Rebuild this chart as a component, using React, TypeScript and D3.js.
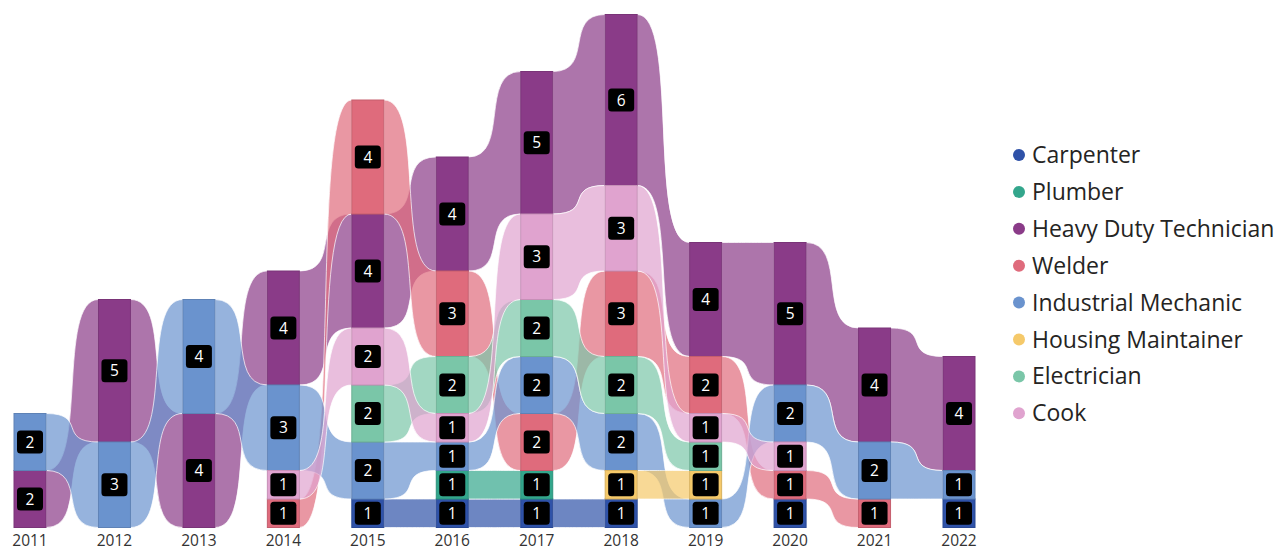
import React from "react";
import * as d3 from "d3";

const years = [2011, 2012, 2013, 2014, 2015, 2016, 2017, 2018, 2019, 2020, 2021, 2022];
const seriesNames = [
  "Carpenter",
  "Plumber",
  "Heavy Duty Technician",
  "Welder",
  "Industrial Mechanic",
  "Housing Maintainer",
  "Electrician",
  "Cook",
];
const seriesColors = ["#2F52A8", "#33A68C", "#8A3B88", "#DF6B7C", "#6A93CE", "#F5C96A", "#7AC6A8", "#E0A3CF"];

const carpenter = [0, 0, 0, 0, 1, 1, 1, 1, 0, 1, 0, 1];
const plumber = [0, 0, 0, 0, 0, 1, 1, 0, 0, 0, 0, 0];
const heavyDuty = [2, 5, 4, 4, 4, 4, 5, 6, 4, 5, 4, 4];
const welder = [0, 0, 0, 1, 4, 3, 2, 3, 2, 1, 1, 0];
const industrialMechanic = [2, 3, 4, 3, 2, 1, 2, 2, 1, 2, 2, 1];
const housingMaintainer = [0, 0, 0, 0, 0, 0, 0, 1, 1, 0, 0, 0];
const electrician = [0, 0, 0, 0, 2, 2, 2, 2, 1, 0, 0, 0];
const cook = [0, 0, 0, 1, 2, 1, 3, 3, 1, 1, 0, 0];

const values = [carpenter, plumber, heavyDuty, welder, industrialMechanic, housingMaintainer, electrician, cook];

const FONT = "'Segoe UI', 'Open Sans', 'Noto Sans', sans-serif";

export default function App() {
  const barW = 32;
  const x = d3.scalePoint<number>().domain(years).range([30, 959]);
  const totals = years.map((_, i) => d3.sum(values, (v) => v[i]));
  const y = d3.scaleLinear().domain([0, d3.max(totals) as number]).range([527.5, 14.5]);

  // stacking: ascending by value, tie broken by legend order, bottom to top
  const stack: { lo: number; hi: number }[][] = values.map(() => years.map(() => ({ lo: 0, hi: 0 })));
  years.forEach((_, i) => {
    const order = d3.range(values.length)
      .filter((s) => values[s][i] > 0)
      .sort((a, b) => values[a][i] - values[b][i] || a - b);
    let cum = 0;
    order.forEach((s) => {
      stack[s][i] = { lo: cum, hi: cum + values[s][i] };
      cum += values[s][i];
    });
  });

  const k = 0.8; // control-point reach: steeper S-curve with rounded shoulders
  const ribbons: JSX.Element[] = [];
  values.forEach((v, s) => {
    for (let i = 0; i < years.length - 1; i++) {
      if (v[i] > 0 && v[i + 1] > 0) {
        const x0 = (x(years[i]) as number) + barW / 2;
        const x1 = (x(years[i + 1]) as number) - barW / 2;
        const c0 = x0 + k * (x1 - x0);
        const c1 = x1 - k * (x1 - x0);
        const t0 = y(stack[s][i].hi), b0 = y(stack[s][i].lo);
        const t1 = y(stack[s][i + 1].hi), b1 = y(stack[s][i + 1].lo);
        const p = d3.path();
        p.moveTo(x0, t0);
        p.bezierCurveTo(c0, t0, c1, t1, x1, t1);
        p.lineTo(x1, b1);
        p.bezierCurveTo(c1, b1, c0, b0, x0, b0);
        p.closePath();
        ribbons.push(
          <path
            key={`r-${s}-${i}`}
            d={p.toString()}
            fill={seriesColors[s]}
            fillOpacity={0.7}
            stroke="#ffffff"
            strokeOpacity={0.7}
            strokeWidth={1}
          />
        );
      }
    }
  });

  const bars: JSX.Element[] = [];
  const labels: JSX.Element[] = [];
  values.forEach((v, s) => {
    years.forEach((yr, i) => {
      if (v[i] <= 0) return;
      const cx = x(yr) as number;
      const top = y(stack[s][i].hi);
      const bot = y(stack[s][i].lo);
      bars.push(
        <rect
          key={`b-${s}-${i}`}
          x={cx - barW / 2}
          y={top}
          width={barW}
          height={bot - top}
          fill={seriesColors[s]}
          stroke={d3.color(seriesColors[s])!.darker(0.35).toString()}
          strokeWidth={1}
        />
      );
      const cy = (top + bot) / 2;
      labels.push(
        <g key={`l-${s}-${i}`}>
          <rect x={cx - 13} y={cy - 11.5} width={26} height={23} rx={3.5} fill="#000000" />
          <text
            x={cx}
            y={cy}
            dy="0.36em"
            textAnchor="middle"
            fill="#ffffff"
            fontSize={15.5}
            fontFamily={FONT}
          >
            {v[i]}
          </text>
        </g>
      );
    });
  });

  return (
    <svg
      width={1283}
      height={550}
      style={{ position: "absolute", left: 0, top: 0, background: "#ffffff" }}
    >
      <g>{ribbons}</g>
      <g>{bars}</g>
      <g>{labels}</g>
      <g>
        {years.map((yr) => (
          <text
            key={`ax-${yr}`}
            x={x(yr) as number}
            y={546}
            textAnchor="middle"
            fill="#333333"
            fontSize={15.5}
            fontFamily={FONT}
          >
            {yr}
          </text>
        ))}
      </g>
      <g>
        {seriesNames.map((name, s) => {
          const cy = 155 + s * 36.9;
          return (
            <g key={`lg-${s}`}>
              <circle cx={1019} cy={cy} r={6} fill={seriesColors[s]} />
              <text x={1032} y={cy} dy="0.35em" fill="#252423" fontSize={23} fontFamily={FONT}>
                {name}
              </text>
            </g>
          );
        })}
      </g>
    </svg>
  );
}
